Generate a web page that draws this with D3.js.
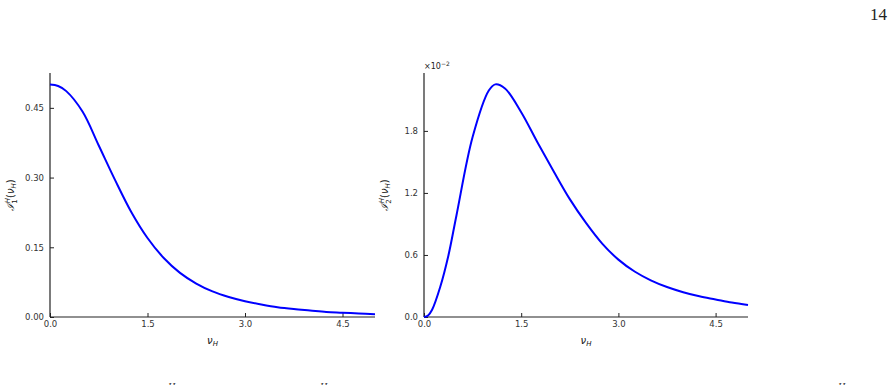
<!DOCTYPE html>
<html>
<head>
<meta charset="utf-8">
<script src="https://cdn.jsdelivr.net/npm/d3@7"></script>
<style>
  body { margin: 0; background: #fff; }
  svg { display: block; font-family: "DejaVu Sans", sans-serif; }
  .tick text { fill: #333; }
</style>
</head>
<body>
<svg id="root" width="892" height="385"></svg>
<script>
// nu_H sample points and the two curves
const nuLeft = [0, 0.125, 0.25, 0.5, 0.75, 1.0, 1.25, 1.5, 1.75, 2.0, 2.25, 2.5, 2.75, 3.0, 3.25, 3.5, 3.75, 4.0, 4.25, 4.5, 4.75, 5.0];
const i1Values = [0.500, 0.497, 0.486, 0.442, 0.369, 0.295, 0.226, 0.170, 0.127, 0.095, 0.072, 0.055, 0.043, 0.034, 0.027, 0.021, 0.017, 0.014, 0.011, 0.0093, 0.0075, 0.0058];

const nuRight = [0, 0.0625, 0.125, 0.25, 0.375, 0.5, 0.75, 1.0, 1.1, 1.25, 1.5, 1.75, 2.0, 2.25, 2.5, 2.75, 3.0, 3.25, 3.5, 3.75, 4.0, 4.25, 4.5, 4.75, 5.0];
const i2Values = [0, 0.015, 0.07, 0.29, 0.59, 0.98, 1.74, 2.19, 2.25, 2.21, 1.98, 1.69, 1.41, 1.14, 0.91, 0.71, 0.555, 0.44, 0.355, 0.29, 0.24, 0.20, 0.17, 0.14, 0.116]; // x 10^-2

const xTicks = [0, 1.5, 3.0, 4.5];
const yTicksLeft = [0, 0.15, 0.30, 0.45];
const yTicksRight = [0, 0.6, 1.2, 1.8];

const svg = d3.select('#root');

const plotTop = 73, plotBottom = 317;

function panel(opts) {
    const x = d3.scaleLinear().domain([0, 5]).range([opts.left, opts.right]);
    const y = d3.scaleLinear().domain([0, opts.yMax]).range([plotBottom, plotTop]);

    const g = svg.append('g');

    // axes, ticks pointing inward
    const axX = g.append('g')
        .attr('transform', `translate(0, ${plotBottom})`)
        .call(d3.axisBottom(x).tickValues(xTicks).tickSize(-4).tickPadding(6).tickFormat(d3.format('.1f')));
    const axY = g.append('g')
        .attr('transform', `translate(${opts.left}, 0)`)
        .call(d3.axisLeft(y).tickValues(opts.yTicks).tickSize(-4).tickPadding(6).tickFormat(d3.format(opts.fmt)));

    [axX, axY].forEach(a => {
        a.select('.domain').remove();
        a.selectAll('.tick line').attr('stroke', '#222');
        a.selectAll('.tick text').attr('font-size', 8.5).attr('font-family', 'DejaVu Sans');
    });
    axX.selectAll('.tick text').attr('dy', '0.5em');

    // spines (left + bottom only)
    g.append('line').attr('x1', opts.left).attr('x2', opts.left).attr('y1', plotTop).attr('y2', plotBottom)
        .attr('stroke', '#222').attr('stroke-width', 1.2);
    g.append('line').attr('x1', opts.left).attr('x2', opts.right).attr('y1', plotBottom).attr('y2', plotBottom)
        .attr('stroke', '#222').attr('stroke-width', 1.2);

    const line = d3.line()
        .x((d, i) => x(opts.xs[i]))
        .y(d => y(d))
        .curve(d3.curveCatmullRom.alpha(0.5));

    g.append('path')
        .datum(opts.ys)
        .attr('fill', 'none')
        .attr('stroke', '#0000ff')
        .attr('stroke-width', 2)
        .attr('d', line);

    // x label
    const xl = g.append('text')
        .attr('x', (opts.left + opts.right) / 2)
        .attr('y', 344)
        .attr('text-anchor', 'middle')
        .attr('font-size', 10)
        .attr('fill', '#111');
    xl.append('tspan').attr('font-style', 'italic').text('ν');
    xl.append('tspan').attr('font-size', 7).attr('font-style', 'italic').attr('dy', 2).text('H');

    // y label
    const yl = g.append('text')
        .attr('transform', `translate(${opts.left - 36}, ${(plotTop + plotBottom) / 2}) rotate(-90)`)
        .attr('text-anchor', 'middle')
        .attr('font-size', 10)
        .attr('fill', '#111');
    yl.append('tspan').attr('font-family', 'DejaVu Serif').attr('font-style', 'italic').text('ℐ');
    yl.append('tspan').attr('font-size', 7).attr('dy', 3).text(opts.sub);
    yl.append('tspan').attr('font-size', 7).attr('font-style', 'italic').attr('dx', -4).attr('dy', -7).text('H');
    yl.append('tspan').attr('dy', 4).text('(');
    yl.append('tspan').attr('font-style', 'italic').text('ν');
    yl.append('tspan').attr('font-size', 7).attr('font-style', 'italic').attr('dy', 2).text('H');
    yl.append('tspan').attr('dy', -2).text(')');

    return g;
}

panel({ left: 50, right: 375, yMax: 0.525, xs: nuLeft, ys: i1Values, yTicks: yTicksLeft, fmt: '.2f', sub: '1' });
panel({ left: 424, right: 748, yMax: 2.36, xs: nuRight, ys: i2Values, yTicks: yTicksRight, fmt: '.1f', sub: '2' });

// offset label on the right panel
const off = svg.append('text').attr('x', 424).attr('y', 69).attr('font-size', 8).attr('fill', '#222');
off.append('tspan').text('×10');
off.append('tspan').attr('font-size', 6).attr('dy', -3).text('−2');

// page number
svg.append('text').attr('x', 887).attr('y', 20).attr('text-anchor', 'end')
    .attr('font-family', 'Liberation Serif, DejaVu Serif, serif').attr('font-size', 17).attr('fill', '#222').text('14');

// caption fragments at the bottom edge (clipped in the source page too)
[168, 320, 838].forEach(px => {
    svg.append('text').attr('x', px).attr('y', 390).attr('font-family', 'Liberation Serif, serif')
        .attr('font-style', 'italic').attr('font-size', 10).attr('fill', '#333').text('H');
});
</script>
</body>
</html>
